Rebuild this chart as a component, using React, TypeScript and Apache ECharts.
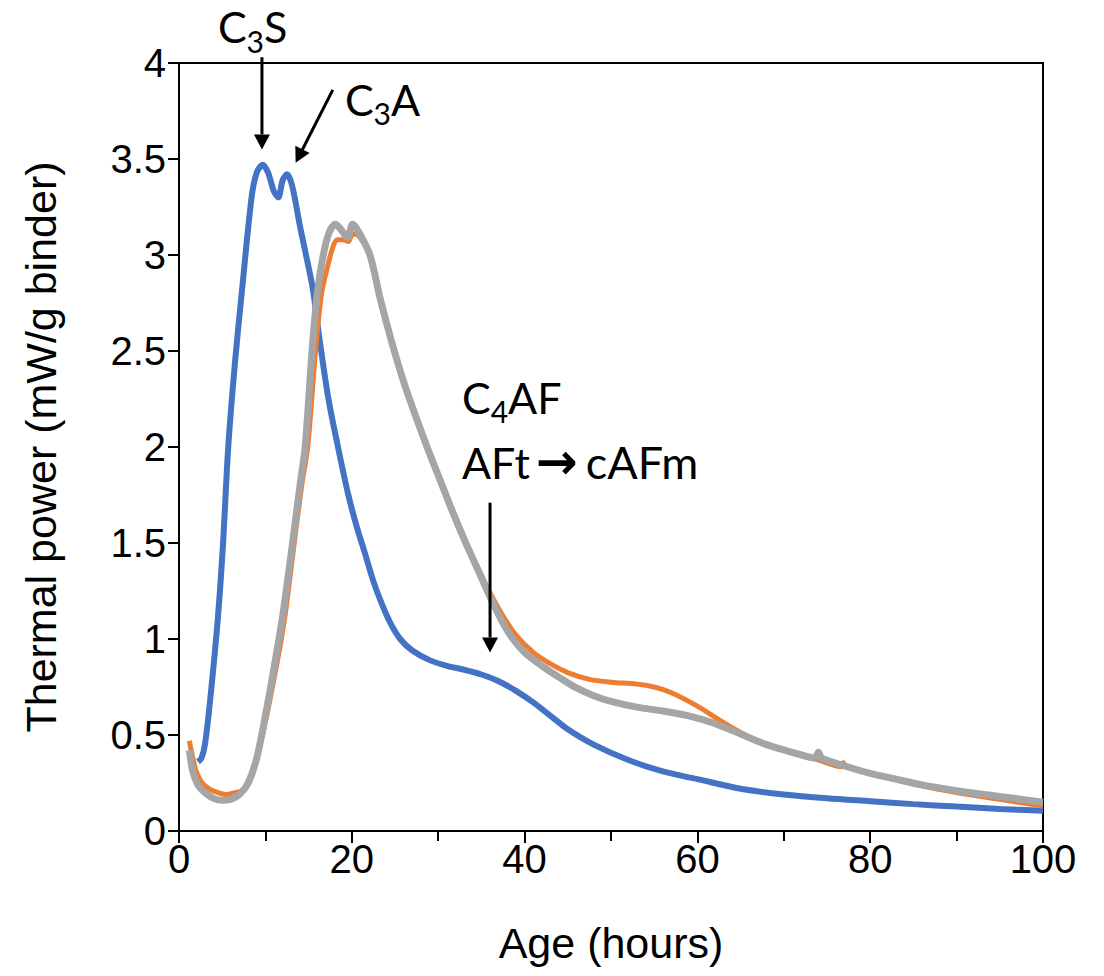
import React, { useEffect, useRef } from "react";
import * as echarts from "echarts";

const blueAge = [2.2, 2.6, 3.0, 3.6, 4.5, 5.1, 5.7, 6.5, 7.3, 8.4, 9.0, 9.7, 10.3, 11.0, 11.5, 12.0, 12.5, 13.1, 14.0, 14.7, 15.5, 16.3, 17.3, 18.4, 19.6, 20.6, 21.5, 22.5, 23.5, 24.5, 25.6, 27, 29, 31, 33, 35, 37, 39, 41, 43, 45, 48, 52, 56, 60, 65, 70, 75, 80, 85, 90, 95, 100];
const bluePower = [0.36, 0.38, 0.45, 0.68, 1.11, 1.5, 2.0, 2.45, 2.82, 3.3, 3.43, 3.47, 3.43, 3.33, 3.3, 3.39, 3.42, 3.36, 3.15, 3.0, 2.82, 2.55, 2.25, 2.0, 1.75, 1.58, 1.45, 1.3, 1.18, 1.08, 1.0, 0.94, 0.89, 0.86, 0.84, 0.815, 0.78, 0.73, 0.67, 0.6, 0.53, 0.45, 0.37, 0.31, 0.27, 0.22, 0.19, 0.17, 0.155, 0.14, 0.127, 0.115, 0.105];

const orangeAge = [1.2, 1.5, 2, 2.7, 3.5, 4.5, 5.5, 6.5, 7.3, 8.2, 9.4, 10.9, 12.2, 13.2, 14.2, 14.9, 15.8, 16.5, 17.2, 17.8, 18.3, 19.0, 19.6, 20.1, 20.8, 22.1, 23.3, 24.6, 26, 27.4, 28.8, 30.2, 31.6, 33.1, 34.6, 36, 37.5, 39, 41, 43, 45, 47.5, 50, 53, 55, 57, 60, 63, 66, 70, 74, 76.7, 76.9, 77.1, 80, 85, 90, 95, 100];
const orangePower = [0.47, 0.4, 0.31, 0.25, 0.22, 0.2, 0.19, 0.2, 0.21, 0.26, 0.45, 0.77, 1.1, 1.45, 1.8, 2.0, 2.5, 2.8, 2.94, 3.04, 3.08, 3.08, 3.07, 3.11, 3.1, 3.0, 2.77, 2.55, 2.34, 2.16, 1.99, 1.83, 1.67, 1.51, 1.37, 1.24, 1.12, 1.02, 0.93, 0.87, 0.825, 0.79, 0.775, 0.765, 0.75, 0.72, 0.65, 0.565, 0.49, 0.42, 0.37, 0.335, 0.355, 0.335, 0.3, 0.245, 0.2, 0.165, 0.13];

const greyAge = [1.2, 1.6, 2.2, 3, 4, 5, 6, 7, 8, 9, 10, 11, 12, 13, 14, 14.6, 15.4, 16.0, 16.7, 17.4, 18.1, 18.8, 19.5, 20.1, 20.8, 22.1, 23.3, 24.6, 26, 27.4, 28.8, 30.2, 31.6, 33.1, 34.6, 36, 37.3, 38.5, 40, 42, 44, 46, 48, 50, 53, 56, 59, 62, 65, 68, 71, 73.6, 74, 74.4, 77, 80, 83, 86, 90, 95, 100];
const greyPower = [0.42, 0.31, 0.24, 0.2, 0.17, 0.16, 0.165, 0.19, 0.25, 0.38, 0.6, 0.85, 1.12, 1.45, 1.8, 2.0, 2.5, 2.8, 3.0, 3.12, 3.16, 3.13, 3.09, 3.16, 3.12, 3.0, 2.77, 2.55, 2.34, 2.16, 1.99, 1.83, 1.67, 1.51, 1.36, 1.22, 1.1, 1.01, 0.93, 0.86, 0.8, 0.745, 0.705, 0.675, 0.645, 0.625, 0.6, 0.56, 0.505, 0.45, 0.41, 0.38, 0.41, 0.38, 0.34, 0.3, 0.27, 0.24, 0.21, 0.18, 0.15];

// annotation anchors in data coordinates [age, power]
const arrowC3S = [[9.6, 4.03], [9.6, 3.55]];
const arrowC3A = [[17.8, 3.86], [13.5, 3.48]];
const arrowC4AF = [[36.0, 1.71], [36.0, 0.93]];
const labelC3S = [4.5, 4.19];
const labelC3A = [19.2, 3.81];
const labelC4AF = [32.75, 2.26];
const labelAFt = [32.75, 1.92];

const zip = (a: number[], b: number[]) => a.map((v, i) => [v, b[i]]);

const AXIS_FONT = "'Liberation Sans', Arial, sans-serif";
const ANNO_FONT = "Lato, 'Noto Sans', sans-serif";

export default function App() {
  const ref = useRef<HTMLDivElement>(null);
  useEffect(() => {
    if (!ref.current) return;
    const chart = echarts.init(ref.current, null, { renderer: "svg" });
    chart.setOption({
      animation: false,
      backgroundColor: "#ffffff",
      grid: {
        left: 179,
        top: 63,
        right: 61,
        bottom: 145,
        show: true,
        borderColor: "#000",
        borderWidth: 2,
      },
      xAxis: {
        type: "value",
        min: 0,
        max: 100,
        interval: 20,
        name: "Age (hours)",
        nameLocation: "middle",
        nameGap: 90,
        nameTextStyle: { fontFamily: AXIS_FONT, fontSize: 43, color: "#000" },
        axisLine: { show: true, onZero: false, lineStyle: { color: "#000", width: 2 } },
        axisTick: { show: true, inside: false, length: 12, lineStyle: { color: "#000", width: 2 } },
        minorTick: { show: true, splitNumber: 2, length: 10, lineStyle: { color: "#000", width: 2 } },
        axisLabel: { fontFamily: AXIS_FONT, fontSize: 40, color: "#000", margin: 8 },
        splitLine: { show: false },
      },
      yAxis: {
        type: "value",
        min: 0,
        max: 4,
        interval: 0.5,
        name: "Thermal power (mW/g binder)",
        nameLocation: "middle",
        nameGap: 117,
        nameTextStyle: { fontFamily: AXIS_FONT, fontSize: 43, color: "#000" },
        axisLine: { show: true, lineStyle: { color: "#000", width: 2 } },
        axisTick: { show: true, inside: false, length: 11, lineStyle: { color: "#000", width: 2 } },
        axisLabel: { fontFamily: AXIS_FONT, fontSize: 40, color: "#000", margin: 13 },
        splitLine: { show: false },
      },
      series: [
        {
          type: "line",
          data: zip(blueAge, bluePower),
          showSymbol: false,
          smooth: 0.3,
          lineStyle: { color: "#4472C4", width: 6 },
          z: 2,
        },
        {
          type: "line",
          data: zip(orangeAge, orangePower),
          showSymbol: false,
          smooth: 0.3,
          lineStyle: { color: "#ED7D31", width: 5 },
          z: 3,
        },
        {
          type: "line",
          data: zip(greyAge, greyPower),
          showSymbol: false,
          smooth: 0.3,
          lineStyle: { color: "#A5A5A5", width: 7 },
          z: 4,
        },
      ],
    });

    const px = (p: number[]) => chart.convertToPixel({ gridIndex: 0 }, p) as number[];
    const arrow = (seg: number[][]) => {
      const a = px(seg[0]);
      const b = px(seg[1]);
      const dx = b[0] - a[0];
      const dy = b[1] - a[1];
      const len = Math.sqrt(dx * dx + dy * dy);
      const ux = dx / len;
      const uy = dy / len;
      const head = 15;
      const half = 8;
      const bx = b[0] - ux * head;
      const by = b[1] - uy * head;
      return [
        {
          type: "line",
          shape: { x1: a[0], y1: a[1], x2: bx, y2: by },
          style: { stroke: "#000", lineWidth: 3 },
          z: 100,
        },
        {
          type: "polygon",
          shape: {
            points: [
              [b[0], b[1]],
              [bx - uy * half, by + ux * half],
              [bx + uy * half, by - ux * half],
            ],
          },
          style: { fill: "#000" },
          z: 100,
        },
      ];
    };
    const rich = {
      n: { fontFamily: ANNO_FONT, fontSize: 43, color: "#000" },
      s: { fontFamily: ANNO_FONT, fontSize: 30, color: "#000", padding: [28, 0, 0, 0] },
      a: { fontFamily: "'DejaVu Sans', sans-serif", fontSize: 50, fontWeight: "bold", color: "#000", padding: [0, 8, 0, 6] },
      m: { fontFamily: ANNO_FONT, fontSize: 45, color: "#000" },
    };
    const label = (pos: number[], text: string) => {
      const p = px(pos);
      return {
        type: "text",
        x: p[0],
        y: p[1],
        z: 100,
        style: { text, rich, align: "left", verticalAlign: "middle", fill: "#000" },
      };
    };
    chart.setOption({
      graphic: [
        ...arrow(arrowC3S),
        ...arrow(arrowC3A),
        ...arrow(arrowC4AF),
        label(labelC3S, "{n|C}{s|3}{n|S}"),
        label(labelC3A, "{n|C}{s|3}{n|A}"),
        label(labelC4AF, "{n|C}{s|4}{n|AF}"),
        label(labelAFt, "{n|AFt}{a|→}{m|cAFm}"),
      ],
    });
    return () => chart.dispose();
  }, []);
  return (
    <div
      ref={ref}
      style={{ position: "fixed", left: 0, top: 0, width: 1104, height: 976, background: "#fff" }}
    />
  );
}
